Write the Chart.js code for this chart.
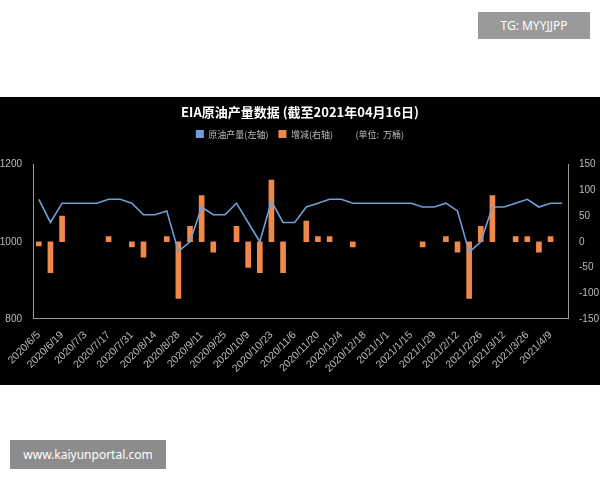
<!DOCTYPE html>
<html><head><meta charset="utf-8">
<script src="https://cdn.jsdelivr.net/npm/chart.js"></script>
<style>
html,body{margin:0;padding:0;background:#fff;width:600px;height:480px;overflow:hidden;font-family:"Noto Sans CJK SC",sans-serif}
#box{position:absolute;left:0;top:97px;width:600px;height:288px;background:#000}
.wm{position:absolute;background:#9a9a9a;color:#fff;font-family:"Noto Sans",sans-serif;font-size:12px;display:flex;align-items:center;justify-content:center}
</style></head><body>
<div class="wm" style="left:478px;top:12px;width:112px;height:27px">TG: MYYJJPP</div>
<div id="box"><canvas id="c" width="600" height="288"></canvas></div>
<div class="wm" style="left:10px;top:440px;width:156px;height:29px;background:#8c8c8c">www.kaiyunportal.com</div>
<script>
const weeks = 46;
const categories = [];
{ let d = new Date(2020,5,5); for(let i=0;i<weeks;i++){ categories.push(d.getFullYear()+'/'+(d.getMonth()+1)+'/'+d.getDate()); d.setDate(d.getDate()+7);} }
const production = [1110,1050,1100,1100,1100,1100,1110,1110,1100,1070,1070,1080,975,1000,1090,1070,1070,1100,1050,1000,1105,1050,1050,1090,1100,1110,1110,1100,1100,1100,1100,1100,1100,1090,1090,1100,1080,973,1000,1090,1090,1100,1110,1090,1100,1100];
const change = [-8,-60,50,null,null,null,10,null,-10,-30,null,10,-110,30,90,-20,null,30,-50,-60,120,-60,null,40,10,10,null,-10,null,null,null,null,null,-10,null,10,-20,-110,30,90,null,10,10,-20,10,null];
const grey='#bbbbbb';
const legendGap={id:'legendGap',beforeInit(chart){const f=chart.legend.fit;chart.legend.fit=function(){f.call(this);this.height+=16;};}};
new Chart(document.getElementById('c'),{
  data:{labels:categories,datasets:[
    {type:'line',label:'原油产量(左轴)',data:production,yAxisID:'y',borderColor:'#6f9fd8',backgroundColor:'#6f9fd8',borderWidth:1.6,pointRadius:0,tension:0,order:0},
    {type:'bar',label:'增减(右轴)',data:change,yAxisID:'y1',backgroundColor:'#f0884a',barThickness:5,order:1}
  ]},
  plugins:[legendGap],
  options:{responsive:false,animation:false,
    layout:{padding:{left:0,right:0,top:4,bottom:8}},
    plugins:{
      title:{display:true,text:'EIA原油产量数据 (截至2021年04月16日)',color:'#fff',font:{size:13,weight:'bold',family:'"Noto Sans CJK SC"'},padding:{top:3,bottom:0}},
      legend:{labels:{color:grey,boxWidth:8,boxHeight:8,padding:10,font:{size:9,family:'"Noto Sans CJK SC"'},
        generateLabels:(ch)=>[
          {text:'原油产量(左轴)',fillStyle:'#6f9fd8',strokeStyle:'#6f9fd8',lineWidth:0,fontColor:grey},
          {text:'增减(右轴)',fillStyle:'#f0884a',strokeStyle:'#f0884a',lineWidth:0,fontColor:grey},
          {text:'(单位:  万桶)',fillStyle:'rgba(0,0,0,0)',strokeStyle:'rgba(0,0,0,0)',lineWidth:0,fontColor:grey}
        ]},onClick:null},
      tooltip:{enabled:false}
    },
    scales:{
      x:{grid:{display:false},border:{color:'#999'},ticks:{color:grey,autoSkip:false,maxRotation:45,minRotation:45,font:{size:10.5},padding:2,
        callback:(v,i)=>i%2===0?categories[i]:''}},
      y:{position:'left',min:800,max:1200,afterFit:(s)=>{s.width=33;},ticks:{stepSize:200,color:grey,font:{size:10},callback:v=>String(v)},grid:{display:false},border:{color:'#999'}},
      y1:{position:'right',min:-150,max:150,afterFit:(s)=>{s.width=32;},ticks:{stepSize:50,color:grey,font:{size:10}},grid:{display:false},border:{color:'#999'}}
    }
  }
});
</script></body></html>
